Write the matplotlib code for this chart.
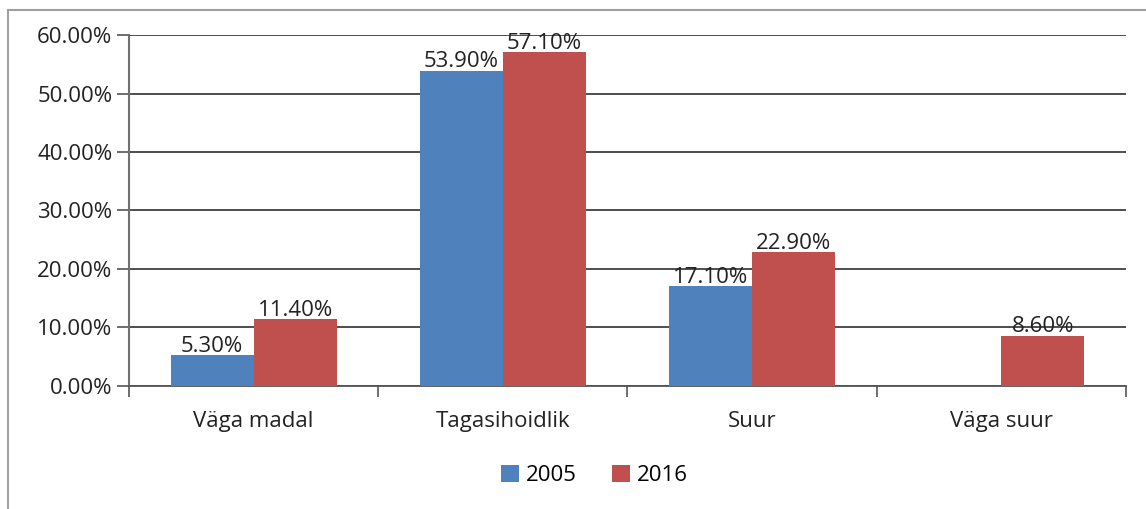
import numpy as np
import matplotlib.pyplot as plt
from matplotlib.lines import Line2D

categories = ["Väga madal", "Tagasihoidlik", "Suur", "Väga suur"]
years = ["2005", "2016"]
values_2005 = [5.3, 53.9, 17.1, np.nan]
values_2016 = [11.4, 57.1, 22.9, 8.6]
yticks = [0, 10, 20, 30, 40, 50, 60]

plt.rcParams['font.family'] = ['Open Sans', 'DejaVu Sans']
fs = 16

fig = plt.figure(figsize=(11.46, 5.09), dpi=100)
ax = fig.add_axes([0.1126, 0.2417, 0.8699, 0.6895])

x = np.arange(len(categories))
w = 1 / 3
b1 = ax.bar(x - w / 2, values_2005, w, color='#4F81BD', label=years[0], zorder=3)
b2 = ax.bar(x + w / 2, values_2016, w, color='#C0504D', label=years[1], zorder=3)

for bars, vals in [(b1, values_2005), (b2, values_2016)]:
    for rect, v in zip(bars, vals):
        if np.isnan(v):
            continue
        ax.text(rect.get_x() + rect.get_width() / 2, v - 0.3, f"{v:.2f}%",
                ha='center', va='bottom', fontsize=fs, color='#222222', zorder=4)

ax.set_xlim(-0.5, len(categories) - 0.5)
ax.set_ylim(0, 60)
ax.set_yticks(yticks)
ax.set_yticklabels([f"{t:.2f}%" for t in yticks], fontsize=fs, color='#222222')
ax.set_xticks(x)
ax.set_xticklabels(categories, fontsize=fs, color='#222222')
ax.set_xticks(np.arange(-0.5, len(categories)), minor=True)
ax.tick_params(axis='x', which='major', length=0, pad=18)
ax.tick_params(axis='x', which='minor', length=8, width=1.2, color='#555555')
ax.tick_params(axis='y', length=9, width=1.2, color='#555555', pad=3)

ax.grid(axis='y', color='#404040', linewidth=1.3, zorder=0)
for s in ['top', 'right']:
    ax.spines[s].set_visible(False)
ax.spines['left'].set_color('#707070')
ax.spines['left'].set_linewidth(1.5)
ax.spines['bottom'].set_color('#555555')
ax.spines['bottom'].set_linewidth(1.3)

ax.legend(loc='center', bbox_to_anchor=(0.467, -0.254), ncol=2, frameon=False,
          fontsize=fs, handlelength=0.8, handleheight=0.8, handletextpad=0.3,
          columnspacing=1.6)

# outer frame
fig.add_artist(Line2D([8 / 1146, 8 / 1146], [0, 1 - 10 / 509], color='#a0a0a0', lw=1.5))
fig.add_artist(Line2D([8 / 1146, 1], [1 - 10 / 509, 1 - 10 / 509], color='#a0a0a0', lw=1.5))

fig.savefig("out.png", dpi=100)
